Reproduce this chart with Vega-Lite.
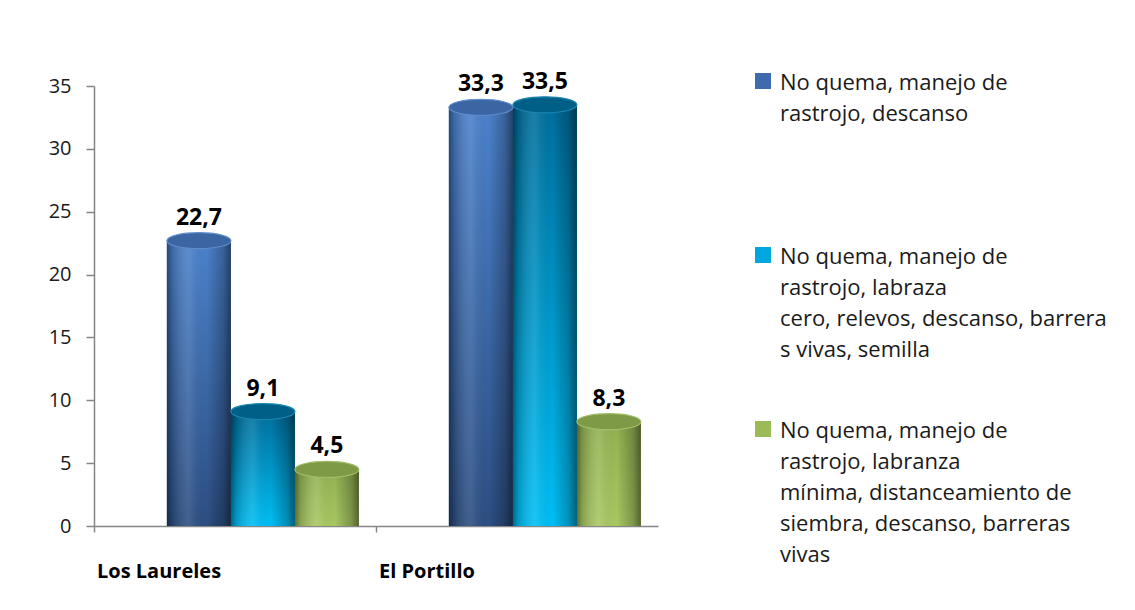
{
  "$schema": "https://vega.github.io/schema/vega-lite/v6.json",
  "autosize": {"type": "none"},
  "width": 564,
  "height": 440,
  "padding": {"left": 94, "top": 86, "right": 477, "bottom": 84},
  "background": "white",
  "config": {
    "view": {"stroke": null},
    "font": "Open Sans",
    "locale": {"number": {"decimal": ",", "thousands": ".", "grouping": [3], "currency": ["", " €"]}}
  },
  "data": {
    "values": [
      {"sitio": "Los Laureles", "serie": 1, "practica": "No quema, manejo de\nrastrojo, descanso", "valor": 22.7},
      {"sitio": "Los Laureles", "serie": 2, "practica": "No quema, manejo de\nrastrojo, labraza\ncero, relevos, descanso, barrera\ns vivas, semilla", "valor": 9.1},
      {"sitio": "Los Laureles", "serie": 3, "practica": "No quema, manejo de\nrastrojo, labranza\nmínima, distanceamiento  de\nsiembra, descanso, barreras\nvivas", "valor": 4.5},
      {"sitio": "El Portillo", "serie": 1, "practica": "No quema, manejo de\nrastrojo, descanso", "valor": 33.3},
      {"sitio": "El Portillo", "serie": 2, "practica": "No quema, manejo de\nrastrojo, labraza\ncero, relevos, descanso, barrera\ns vivas, semilla", "valor": 33.5},
      {"sitio": "El Portillo", "serie": 3, "practica": "No quema, manejo de\nrastrojo, labranza\nmínima, distanceamiento  de\nsiembra, descanso, barreras\nvivas", "valor": 8.3}
    ]
  },
  "encoding": {
    "x": {
      "field": "sitio", "type": "nominal", "sort": null,
      "scale": {"paddingInner": 0, "paddingOuter": 0},
      "axis": {
        "title": null, "bandPosition": 0, "labelAlign": "left", "labelAngle": 0,
        "labelBaseline": "top", "labelPadding": 29, "labelOffset": -138, "tickSize": 6,
        "labelFont": "Open Sans", "labelFontSize": 20, "labelFontWeight": "bold", "labelColor": "#000000",
        "domainColor": "#868686", "domainWidth": 1.5, "tickColor": "#868686", "tickWidth": 1.5
      }
    },
    "xOffset": {
      "field": "practica", "type": "nominal", "sort": null,
      "scale": {"paddingInner": 0, "paddingOuter": 0.703, "align": 0.81}
    },
    "y": {
      "field": "valor", "type": "quantitative",
      "scale": {"domain": [0, 35], "nice": false},
      "axis": {
        "title": null, "values": [0, 5, 10, 15, 20, 25, 30, 35], "grid": false,
        "domainColor": "#868686", "domainWidth": 1.5, "tickColor": "#868686", "tickWidth": 1.5,
        "tickSize": 8, "labelPadding": 15, "labelFont": "Open Sans", "labelFontSize": 20, "labelColor": "#1a1a1a"
      }
    }
  },
  "layer": [
    {
      "mark": {"type": "bar", "strokeWidth": 0},
      "encoding": {
        "color": {
          "field": "practica", "type": "nominal", "sort": null,
          "scale": {"range": ["#3F6BAE", "#00A6E0", "#9BBB59"]},
          "legend": {
            "orient": "none", "legendX": 658, "legendY": -24, "direction": "vertical",
            "title": null, "padding": 0,
            "symbolType": "M-1,0L1,0L1,2L-1,2Z", "symbolSize": 256, "symbolStrokeWidth": 0,
            "labelFont": "Open Sans", "labelFontSize": 22, "labelColor": "#1a1a1a",
            "labelBaseline": "top", "labelOffset": 6, "labelLimit": 400, "rowPadding": 18,
            "labelExpr": "slice(split(datum.label + '\\n\\n\\n\\n', '\\n'), 0, 5)",
            "encode": {
              "labels": {"update": {"lineHeight": {"value": 31}}},
              "symbols": {"update": {"fill": [
                {"test": "indexof(datum.value, 'labraza') >= 0", "value": {"gradient": "linear", "x1": 0, "y1": 0, "x2": 0, "y2": 1, "stops": [{"offset": 0, "color": "#0088C4"}, {"offset": 1, "color": "#00C2F8"}]}},
                {"test": "indexof(datum.value, 'labranza') >= 0", "value": "#9BBB59"},
                {"value": {"gradient": "linear", "x1": 0, "y1": 0, "x2": 0, "y2": 1, "stops": [{"offset": 0, "color": "#4A78BA"}, {"offset": 1, "color": "#2B4C7E"}]}}
              ]}}
            }
          }
        }
      }
    },
    {
      "mark": {"type": "bar", "strokeWidth": 0},
      "encoding": {
        "color": {
          "condition": [
            {"test": "datum.serie === 1", "value": {"gradient": "linear", "x1": 0, "y1": 0, "x2": 0, "y2": 1, "stops": [{"offset": 0, "color": "#4B82CC"}, {"offset": 1, "color": "#2C4E82"}]}},
            {"test": "datum.serie === 2", "value": {"gradient": "linear", "x1": 0, "y1": 0, "x2": 0, "y2": 1, "stops": [{"offset": 0, "color": "#006E9C"}, {"offset": 1, "color": "#00BFF5"}]}}
          ],
          "value": {"gradient": "linear", "x1": 0, "y1": 0, "x2": 0, "y2": 1, "stops": [{"offset": 0, "color": "#93B152"}, {"offset": 1, "color": "#A9C862"}]}
        }
      }
    },
    {
      "mark": {
        "type": "bar", "strokeWidth": 0,
        "color": {"gradient": "linear", "x1": 0, "y1": 0, "x2": 1, "y2": 0, "stops": [
          {"offset": 0, "color": "rgba(0,0,0,0.45)"},
          {"offset": 0.08, "color": "rgba(0,0,0,0.2)"},
          {"offset": 0.35, "color": "rgba(255,255,255,0.1)"},
          {"offset": 0.62, "color": "rgba(0,0,0,0)"},
          {"offset": 0.88, "color": "rgba(0,0,0,0.25)"},
          {"offset": 1, "color": "rgba(0,0,0,0.5)"}
        ]}
      },
      "encoding": {}
    },
    {
      "mark": {"type": "point", "filled": true, "opacity": 1, "size": 4096, "shape": "M-1,0A1,0.25,0,1,1,1,0A1,0.25,0,1,1,-1,0Z", "strokeWidth": 1.2},
      "encoding": {
        "color": {
          "condition": [
            {"test": "datum.serie === 1", "value": "#3C65A3"},
            {"test": "datum.serie === 2", "value": "#005F87"}
          ],
          "value": "#7E9A46"
        },
        "stroke": {
          "condition": [
            {"test": "datum.serie === 1", "value": "#5F8CCB"},
            {"test": "datum.serie === 2", "value": "#1A86B0"}
          ],
          "value": "#A0BC66"
        }
      }
    },
    {
      "mark": {"type": "text", "baseline": "bottom", "dy": -11, "font": "Open Sans", "fontSize": 23, "fontWeight": "bold", "color": "#000000"},
      "encoding": {
        "text": {"field": "valor", "type": "quantitative", "format": ".1f"}
      }
    }
  ]
}
